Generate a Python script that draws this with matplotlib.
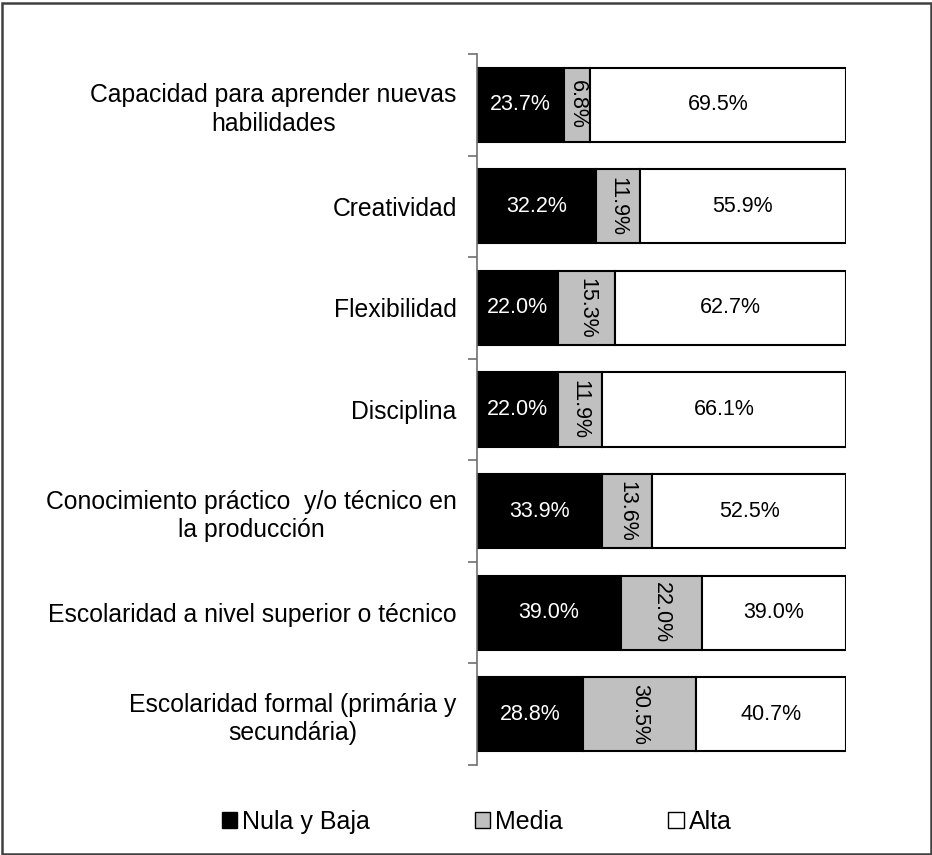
import numpy as np
import matplotlib.pyplot as plt
from matplotlib.patches import Patch, Rectangle

plt.rcParams['font.family'] = ['Liberation Sans', 'DejaVu Sans']

# Categories listed top to bottom
categorias = [
    'Capacidad para aprender nuevas\nhabilidades',
    'Creatividad',
    'Flexibilidad',
    'Disciplina',
    'Conocimiento práctico  y/o técnico en\nla producción',
    'Escolaridad a nivel superior o técnico',
    'Escolaridad formal (primária y\nsecundária)',
]
nula_baja = [23.7, 32.2, 22.0, 22.0, 33.9, 39.0, 28.8]
media = [6.8, 11.9, 15.3, 11.9, 13.6, 22.0, 30.5]
alta = [69.5, 55.9, 62.7, 66.1, 52.5, 39.0, 40.7]
series_names = ['Nula y Baja', 'Media', 'Alta']
colores = ['#000000', '#c0c0c0', '#ffffff']
text_colors = ['white', 'black', 'black']
rotations = [0, 270, 0]

W, H = 932, 855
fig = plt.figure(figsize=(W / 100, H / 100), dpi=100)
ax = fig.add_axes([477 / W, 1 - 765 / H, (846 - 477) / W, (765 - 54) / H])

y = np.arange(len(categorias))
left = np.zeros(len(categorias))
for vals, name, col, tc, rot in zip([nula_baja, media, alta], series_names,
                                    colores, text_colors, rotations):
    vals = np.array(vals)
    ax.barh(y, vals, left=left, height=0.73, color=col, edgecolor='black',
            linewidth=1.5, label=name)
    for yi, li, v in zip(y, left, vals):
        ax.text(li + v / 2, yi, f'{v:.1f}%', ha='center', va='center',
                color=tc, fontsize=15.5, rotation=rot)
    left += vals

ax.set_xlim(0, 100)
ax.set_ylim(len(categorias) - 0.5, -0.5)
ax.set_xticks([])
ax.set_yticks(y)
ax.set_yticklabels(categorias, fontsize=17.8, multialignment='center',
                   linespacing=1.25)
ax.set_yticks(np.arange(-0.5, len(categorias)), minor=True)
ax.tick_params(axis='y', which='major', length=0, pad=14.5)
ax.tick_params(axis='y', which='minor', length=6.5, width=1.2, color='#707070')
for s in ['top', 'right', 'bottom']:
    ax.spines[s].set_visible(False)
ax.spines['left'].set_color('#707070')
ax.spines['left'].set_linewidth(1.2)

handles = [Patch(facecolor=c, edgecolor='black', linewidth=1) for c in colores]
fig.legend(handles, series_names, loc='center', bbox_to_anchor=(476.5 / W, 1 - 822 / H),
           ncol=3, frameon=False, fontsize=18, handlelength=0.62, handleheight=0.62,
           handletextpad=0.2, columnspacing=4.2, borderpad=0, borderaxespad=0)

# outer border of the chart area
fig.patches.append(Rectangle((1.5 / W, 1.5 / H), (W - 3) / W, (H - 4.5) / H,
                             transform=fig.transFigure, fill=False,
                             edgecolor='#404040', linewidth=1.8))

plt.savefig('out.png', dpi=100)
